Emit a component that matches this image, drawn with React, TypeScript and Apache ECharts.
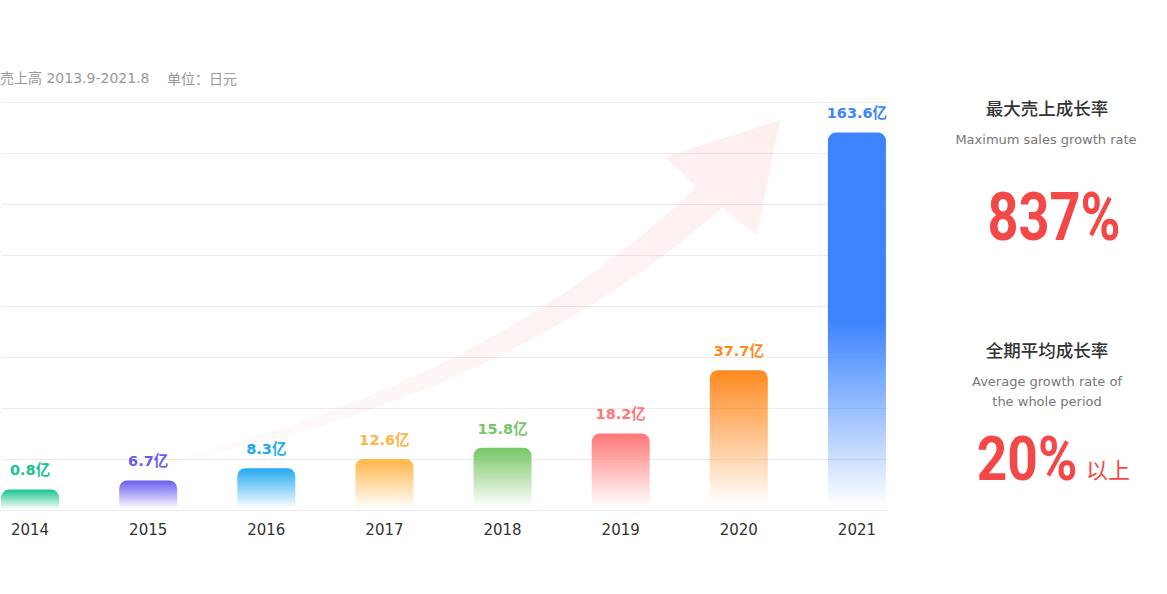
import React, { useEffect, useRef } from "react";
import * as echarts from "echarts";

const years = ["2014", "2015", "2016", "2017", "2018", "2019", "2020", "2021"];
const salesValues = [0.8, 6.7, 8.3, 12.6, 15.8, 18.2, 37.7, 163.6];
// drawn bar heights (the original chart uses a non-proportional visual scale)
const barHeights = [20, 29, 41, 50, 61, 75, 137, 370];
const barColors = ["#17C48E", "#6B5CF0", "#22A8F0", "#FFB546", "#78C766", "#FF7878", "#FF8A1E", "#3D85FF"];
const yMax = 400;
const yInterval = 50;

const titleText = "売上高 2013.9-2021.8";
const unitText = "单位：日元";
const maxRateTitle = "最大売上成长率";
const maxRateSub = "Maximum sales growth rate";
const maxRateValue = "837%";
const avgRateTitle = "全期平均成长率";
const avgRateSub1 = "Average growth rate of";
const avgRateSub2 = "the whole period";
const avgRateValue = "20%";
const avgRateSuffix = "以上";

const arrowPath =
  "M55,481 Q450,420 697,187 L665,157 L780,120 L757,235 L722,208 Q470,430 55,481 Z";
echarts.graphic.registerShape("growthArrow", echarts.graphic.extendPath(arrowPath, {}) as any);

function hexToRgba(hex: string, a: number) {
  const n = parseInt(hex.slice(1), 16);
  return `rgba(${(n >> 16) & 255},${(n >> 8) & 255},${n & 255},${a})`;
}

const FONT = "'DejaVu Sans', 'Noto Sans CJK SC', sans-serif";
const CJK = "'Noto Sans CJK SC', sans-serif";

function txt(x: number, y: number, text: string, fontSize: number, fill: string, fontWeight: any = "normal", align = "center", extra: any = {}) {
  const { fontFamily, ...rest } = extra;
  return {
    type: "text",
    x,
    y,
    z: 10,
    ...rest,
    style: {
      text,
      fill,
      fontSize,
      fontWeight,
      fontFamily: fontFamily || FONT,
      align,
      textAlign: align,
      verticalAlign: "middle",
      textVerticalAlign: "middle",
    },
  };
}

export default function App() {
  const ref = useRef<HTMLDivElement>(null);
  useEffect(() => {
    if (!ref.current) return;
    const chart = echarts.init(ref.current, null, { renderer: "svg" });
    const data = barHeights.map((h, i) => {
      const c = barColors[i];
      const stops =
        i === barHeights.length - 1
          ? [
              { offset: 0, color: c },
              { offset: 0.5, color: c },
              { offset: 0.98, color: hexToRgba(c, 0.02) },
            ]
          : [
              { offset: 0, color: c },
              { offset: 0.96, color: hexToRgba(c, 0) },
            ];
      return {
        value: h,
        itemStyle: {
          color: new echarts.graphic.LinearGradient(0, 0, 0, 1, stops),
          borderRadius: [8, 8, 0, 0],
        },
        label: { color: c },
      };
    });
    chart.setOption({
      animation: false,
      textStyle: { fontFamily: FONT },
      grid: [
        { left: -29, width: 945, top: 102, height: 408, outerBoundsMode: "none", containLabel: false },
        { left: 2, width: 885, top: 102, height: 408, outerBoundsMode: "none", containLabel: false },
      ],
      xAxis: [
        {
          type: "category",
          gridIndex: 0,
          data: years,
          axisLine: { show: false },
          axisTick: { show: false },
          axisLabel: { color: "#333", fontSize: 15, margin: 12, fontFamily: FONT },
        },
        { type: "value", gridIndex: 1, show: false, min: 0, max: 1 },
      ],
      yAxis: [
        { type: "value", gridIndex: 0, min: 0, max: yMax, interval: yInterval, show: false, splitLine: { show: false } },
        {
          type: "value",
          gridIndex: 1,
          min: 0,
          max: yMax,
          interval: yInterval,
          axisLabel: { show: false },
          axisLine: { show: false },
          axisTick: { show: false },
          splitLine: { show: true, lineStyle: { color: "#EBEBEB", width: 1 } },
        },
      ],
      graphic: [
        {
          type: "growthArrow",
          x: 0,
          y: 0,
          z: 1,
          silent: true,
          style: {
            fill: new echarts.graphic.LinearGradient(0, 1, 1, 0, [
              { offset: 0, color: "rgba(245,120,120,0.0)" },
              { offset: 0.35, color: "rgba(245,120,120,0.07)" },
              { offset: 1, color: "rgba(245,120,120,0.12)" },
            ]),
          },
        },
        txt(0, 78, titleText, 14, "#999", "normal", "left"),
        txt(167, 78, unitText, 14, "#999", "normal", "left", { fontFamily: CJK }),
        txt(1047, 107, maxRateTitle, 17.5, "#333", 500, "center", { fontFamily: CJK }),
        txt(1046, 139, maxRateSub, 13, "#777"),
        txt(1054, 218, maxRateValue, 66, "#F44848", "bold", "center", { scaleX: 0.82, fontFamily: "Roboto" }),
        txt(1047, 349, avgRateTitle, 17.5, "#333", 500, "center", { fontFamily: CJK }),
        txt(1047, 381, avgRateSub1, 13, "#777"),
        txt(1047, 401, avgRateSub2, 13, "#777"),
        txt(1027, 459, avgRateValue, 62, "#F44848", "bold", "center", { scaleX: 0.86, fontFamily: "Roboto" }),
        txt(1086, 468, avgRateSuffix, 22, "#F44848", "normal", "left", { fontFamily: CJK }),
      ],
      series: [
        {
          type: "bar",
          xAxisIndex: 0,
          yAxisIndex: 0,
          barWidth: 58,
          z: 2,
          data,
          label: {
            show: true,
            position: "top",
            distance: 12,
            fontSize: 14.5,
            fontWeight: "bold",
            fontFamily: FONT,
            formatter: (p: any) => salesValues[p.dataIndex].toFixed(1) + "亿",
          },
        },
      ],
    });
    return () => chart.dispose();
  }, []);
  return <div ref={ref} style={{ position: "absolute", left: 0, top: 0, width: 1167, height: 594 }} />;
}
